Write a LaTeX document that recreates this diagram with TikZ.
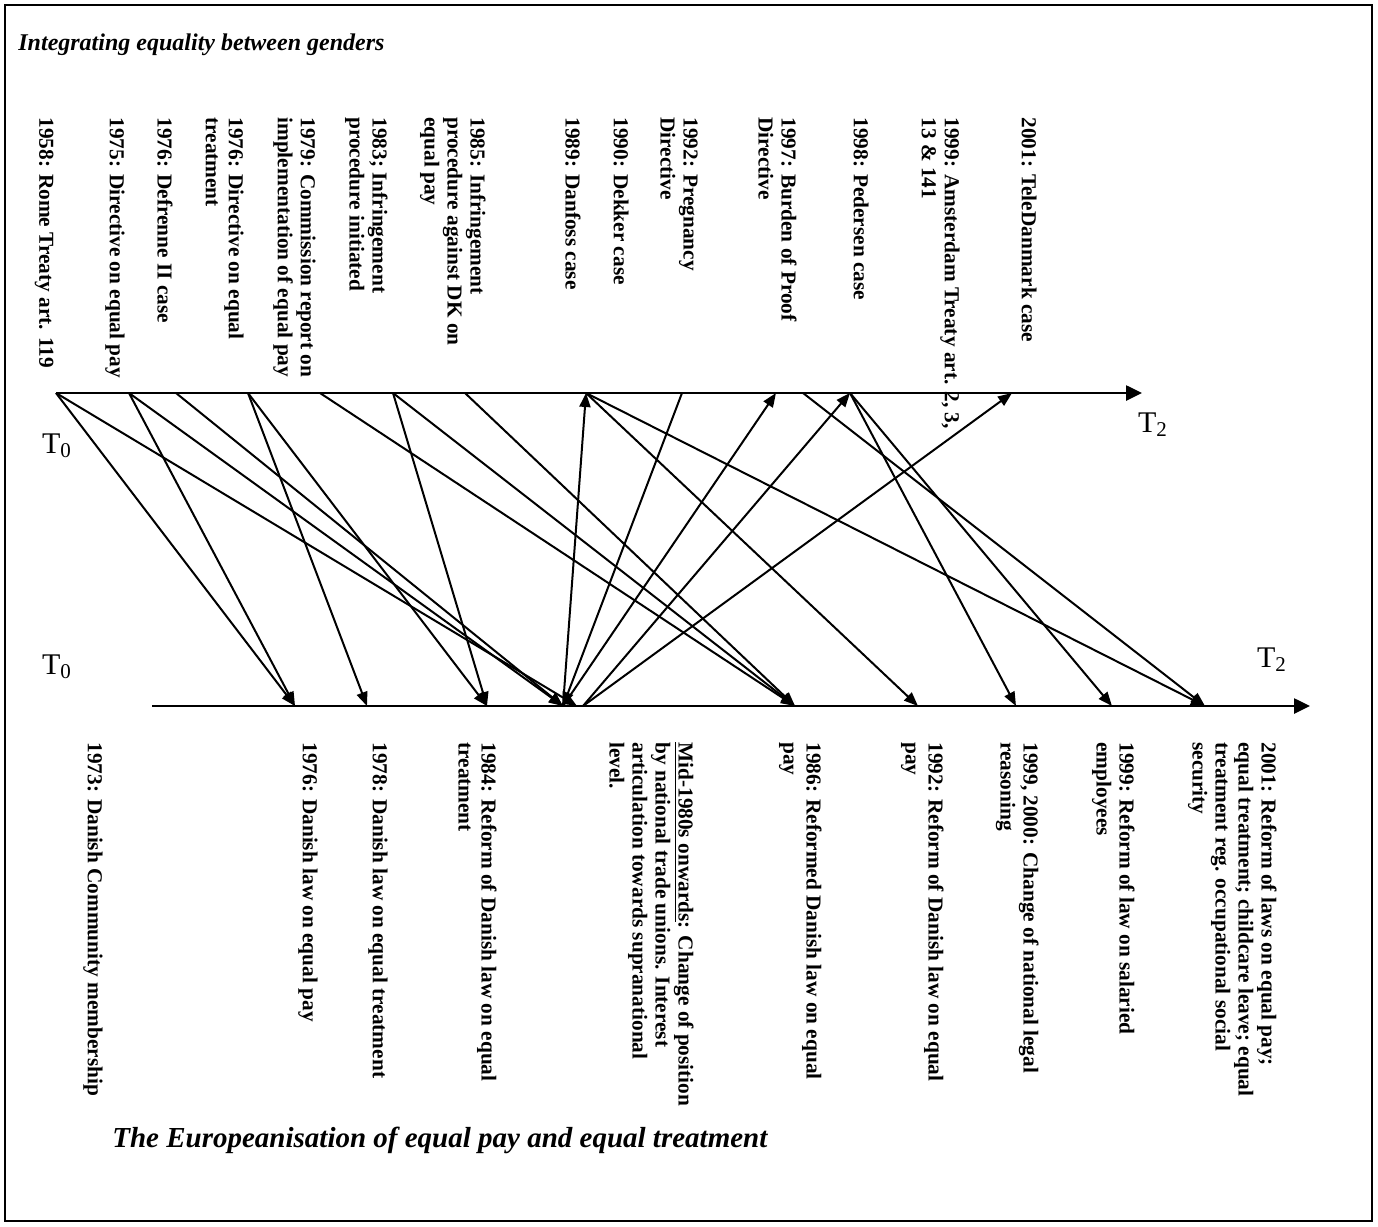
\documentclass[tikz,border=0pt]{standalone}
\usepackage{fontspec}
\setmainfont{Liberation Serif}
\usetikzlibrary{arrows.meta}

\begin{document}
\begin{tikzpicture}[x=0.5pt,y=-0.5pt,
    every node/.style={inner sep=0pt},
    evt/.style={font=\fontsize{10.65}{11.5}\selectfont\bfseries,rotate=-90,anchor=north west,align=left},
    axis/.style={line width=1.3pt,-{Triangle[length=8pt,width=7.5pt]}},
    link/.style={line width=1pt,-{Triangle[length=7pt,width=5.5pt]}},
    heading/.style={font=\fontsize{12}{14}\selectfont\bfseries\itshape,anchor=base west},
    tlabel/.style={font=\fontsize{15}{17}\selectfont}]
\def\eulevel{393}
\def\dklevel{706}
\def\eutop{117}
\def\dktop{742}

% Macro for EU event (upper time line)
\newcommand{\euevent}[4]{
    \coordinate (#1) at (#2,\eulevel);
    \node[evt] (#1 text) at (#3,\eutop) {#4};
}
% Macro for Danish event (lower time line)
\newcommand{\dkevent}[4]{
    \coordinate (#1) at (#2,\dklevel);
    \node[evt] (#1 text) at (#3,\dktop) {#4};
}

% Frame
\useasboundingbox (0,0) rectangle (1378,1227);
\draw[line width=0.8pt] (5,5) rectangle (1372,1221);

% Titles
\node[heading] (title) at (18,50) {Integrating equality between genders};
\node[heading,font=\fontsize{14.5}{16}\selectfont\bfseries\itshape] (subtitle) at (112,1147) {The Europeanisation of equal pay and equal treatment};

% Upper time line
\euevent{rome}{56}{54}{1958: Rome Treaty art. 119}
\euevent{dirpay}{129}{125}{1975: Directive on equal pay}
\euevent{defrenne}{176}{173}{1976: Defrenne II case}
\euevent{dirtreat}{248}{244}{1976: Directive on equal\\treatment}
\euevent{commission}{320}{316}{1979: Commission report on\\implementation of equal pay}
\euevent{infr83}{393}{388}{1983; Infringement\\procedure initiated}
\euevent{infr85}{465}{486}{1985: Infringement\\procedure against DK on\\equal pay}
\euevent{danfoss}{586}{581}{1989: Danfoss case}
\euevent{dekker}{629}{629}{1990: Dekker case}
\euevent{pregnancy}{682}{698}{1992: Pregnancy\\Directive}
\euevent{burden}{776}{797}{1997: Burden of Proof\\Directive}
\coordinate (burden b) at (803,\eulevel);
\euevent{pedersen}{850}{869}{1998: Pedersen case}
\euevent{amsterdam}{960}{960}{1999: Amsterdam Treaty art. 2, 3,\\13 \& 141}
\euevent{teledanmark}{1012}{1037}{2001: TeleDanmark case}
\coordinate (eu end) at (1142,\eulevel);
\draw[axis] (rome) -- (eu end);
\node[tlabel] (t0 eu) at (57,446) {T\textsubscript{0}};
\node[tlabel] (t2 eu) at (1153,425) {T\textsubscript{2}};

% Lower time line
\dkevent{membership}{96}{103}{1973: Danish Community membership}
\dkevent{dklaw76}{295}{318}{1976: Danish law on equal pay}
\dkevent{dklaw78}{367}{388}{1978: Danish law on equal treatment}
\dkevent{reform84}{487}{497}{1984: Reform of Danish law on equal\\treatment}
\coordinate (mid) at (563,\dklevel);
\coordinate (mid b) at (577,\dklevel);
\coordinate (mid c) at (583,\dklevel);
\node[evt] (mid text) at (694,\dktop) {\underline{Mid-1980s onwards}: Change of position\\by national trade unions. Interest\\articulation towards supranational\\level.};
\dkevent{reform86}{795}{822}{1986: Reformed Danish law on equal\\pay}
\dkevent{reform92}{918}{944}{1992: Reform of Danish law on equal\\pay}
\dkevent{legal}{1016}{1039}{1999, 2000: Change of national legal\\reasoning}
\dkevent{salaried}{1112}{1135}{1999: Reform of law on salaried\\employees}
\dkevent{reform01}{1205}{1277}{2001: Reform of laws on equal pay;\\equal treatment; childcare leave; equal\\treatment reg. occupational social\\security}
\coordinate (dk start) at (152,\dklevel);
\coordinate (dk end) at (1310,\dklevel);
\draw[axis] (dk start) -- (dk end);
\node[tlabel] (t0 dk) at (57,667) {T\textsubscript{0}};
\node[tlabel] (t2 dk) at (1272,660) {T\textsubscript{2}};

% EU to national level
\draw[link] (rome) -- (dklaw76);
\draw[link] (rome) -- (mid b);
\draw[link] (dirpay) -- (dklaw76);
\draw[link] (dirpay) -- (mid);
\draw[link] (defrenne) -- (mid);
\draw[link] (dirtreat) -- (dklaw78);
\draw[link] (dirtreat) -- (reform84);
\draw[link] (commission) -- (reform86);
\draw[link] (infr83) -- (reform84);
\draw[link] (infr83) -- (reform86);
\draw[link] (infr85) -- (reform86);
\draw[link] (pregnancy) -- (mid);
\draw[link] (danfoss) -- (reform92);
\draw[link] (danfoss) -- (reform01);
\draw[link] (burden b) -- (reform01);
\draw[link] (pedersen) -- (legal);
\draw[link] (pedersen) -- (salaried);

% National to EU level
\draw[link] (mid) -- (danfoss);
\draw[link] (mid) -- (burden);
\draw[link] (mid c) -- (pedersen);
\draw[link] (mid c) -- (teledanmark);

\end{tikzpicture}
\end{document}
